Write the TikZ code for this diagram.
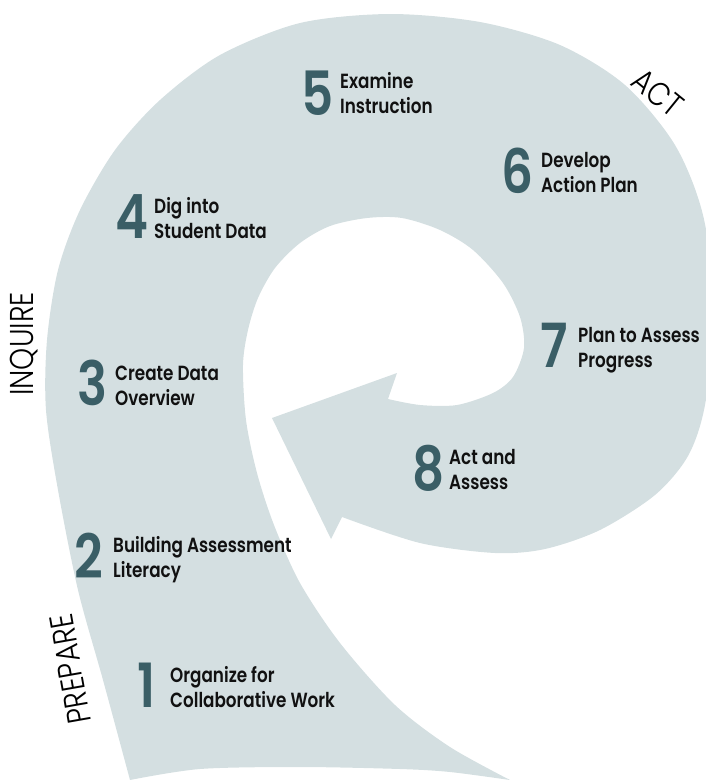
\documentclass[tikz,border=0pt]{standalone}
\usepackage{fontspec}
\newfontfamily\labfont{Poppins SemiBold}[FakeStretch=0.82]
\newfontfamily\thinfont{Poppins Light}[FakeStretch=0.85]
\definecolor{band}{RGB}{212,223,225}
\definecolor{numcol}{RGB}{58,94,102}
\definecolor{labcol}{RGB}{17,17,17}
\begin{document}
\begin{tikzpicture}[x=1pt,y=-1pt,
  num/.style={font=\labfont\fontsize{61}{61}\selectfont, text=numcol, inner sep=0pt, anchor=base west},
  lab/.style={font=\labfont\fontsize{20.5}{25}\selectfont, text=labcol, align=left, inner sep=0pt, anchor=base west},
  phase/.style={font=\thinfont\fontsize{33}{33}\selectfont, text=black, inner sep=0pt}]
\useasboundingbox (0,0) rectangle (705,780);
% spiral band with arrowhead
\fill[band] (130,780)
  -- plot[smooth] coordinates {(130,780) (103,680) (78,590) (58,490) (46,410) (47,340) (58,270) (80,210) (115,150) (160,100) (220,55) (300,23) (390,14) (480,22) (560,45) (625,85) (675,145) (703,215) (715,310) (705,405) (688,456) (655,495) (600,530) (545,549) (495,553) (420,543) (342,517)}
  -- (331,539) -- (272,418) -- (397,373) -- (388,399)
  -- plot[smooth] coordinates {(388,399) (420,405) (457,405) (493,393) (513,377) (524,348) (520,317) (503,283) (473,250) (440,230) (402,218) (367,218) (330,226) (300,243) (275,268) (258,298) (248,330) (243,365) (246,420) (257,473) (274,525) (300,583) (340,643) (395,705) (450,747) (510,780)}
  -- plot[smooth] coordinates {(510,780) (450,772) (400,769) (300,767) (200,769) (130,780)}
  -- cycle;
% steps
\node[num] (n1) at (137,707) {1};
\node[lab] (l1) at (170,707) {Organize for\\Collaborative Work};
\node[num] (n2) at (74,578) {2};
\node[lab] (l2) at (113,577) {Building Assessment\\Literacy};
\node[num] (n3) at (77,405) {3};
\node[lab] (l3) at (115,405) {Create Data\\Overview};
\node[num] (n4) at (115,238) {4};
\node[lab] (l4) at (154,238) {Dig into\\Student Data};
\node[num] (n5) at (301,115) {5};
\node[lab] (l5) at (340,113) {Examine\\Instruction};
\node[num] (n6) at (501,193) {6};
\node[lab] (l6) at (541,192) {Develop\\Action Plan};
\node[num] (n7) at (540,367) {7};
\node[lab] (l7) at (578,367) {Plan to Assess\\Progress};
\node[num] (n8) at (412,490) {8};
\node[lab] (l8) at (449,489) {Act and\\Assess};
% phases
\node[phase, rotate=90] (inquire) at (24,344) {INQUIRE};
\node[phase, rotate=100] (prepare) at (70,669) {PREPARE};
\node[phase, rotate=-39] (act) at (658,93) {ACT};
\end{tikzpicture}
\end{document}
